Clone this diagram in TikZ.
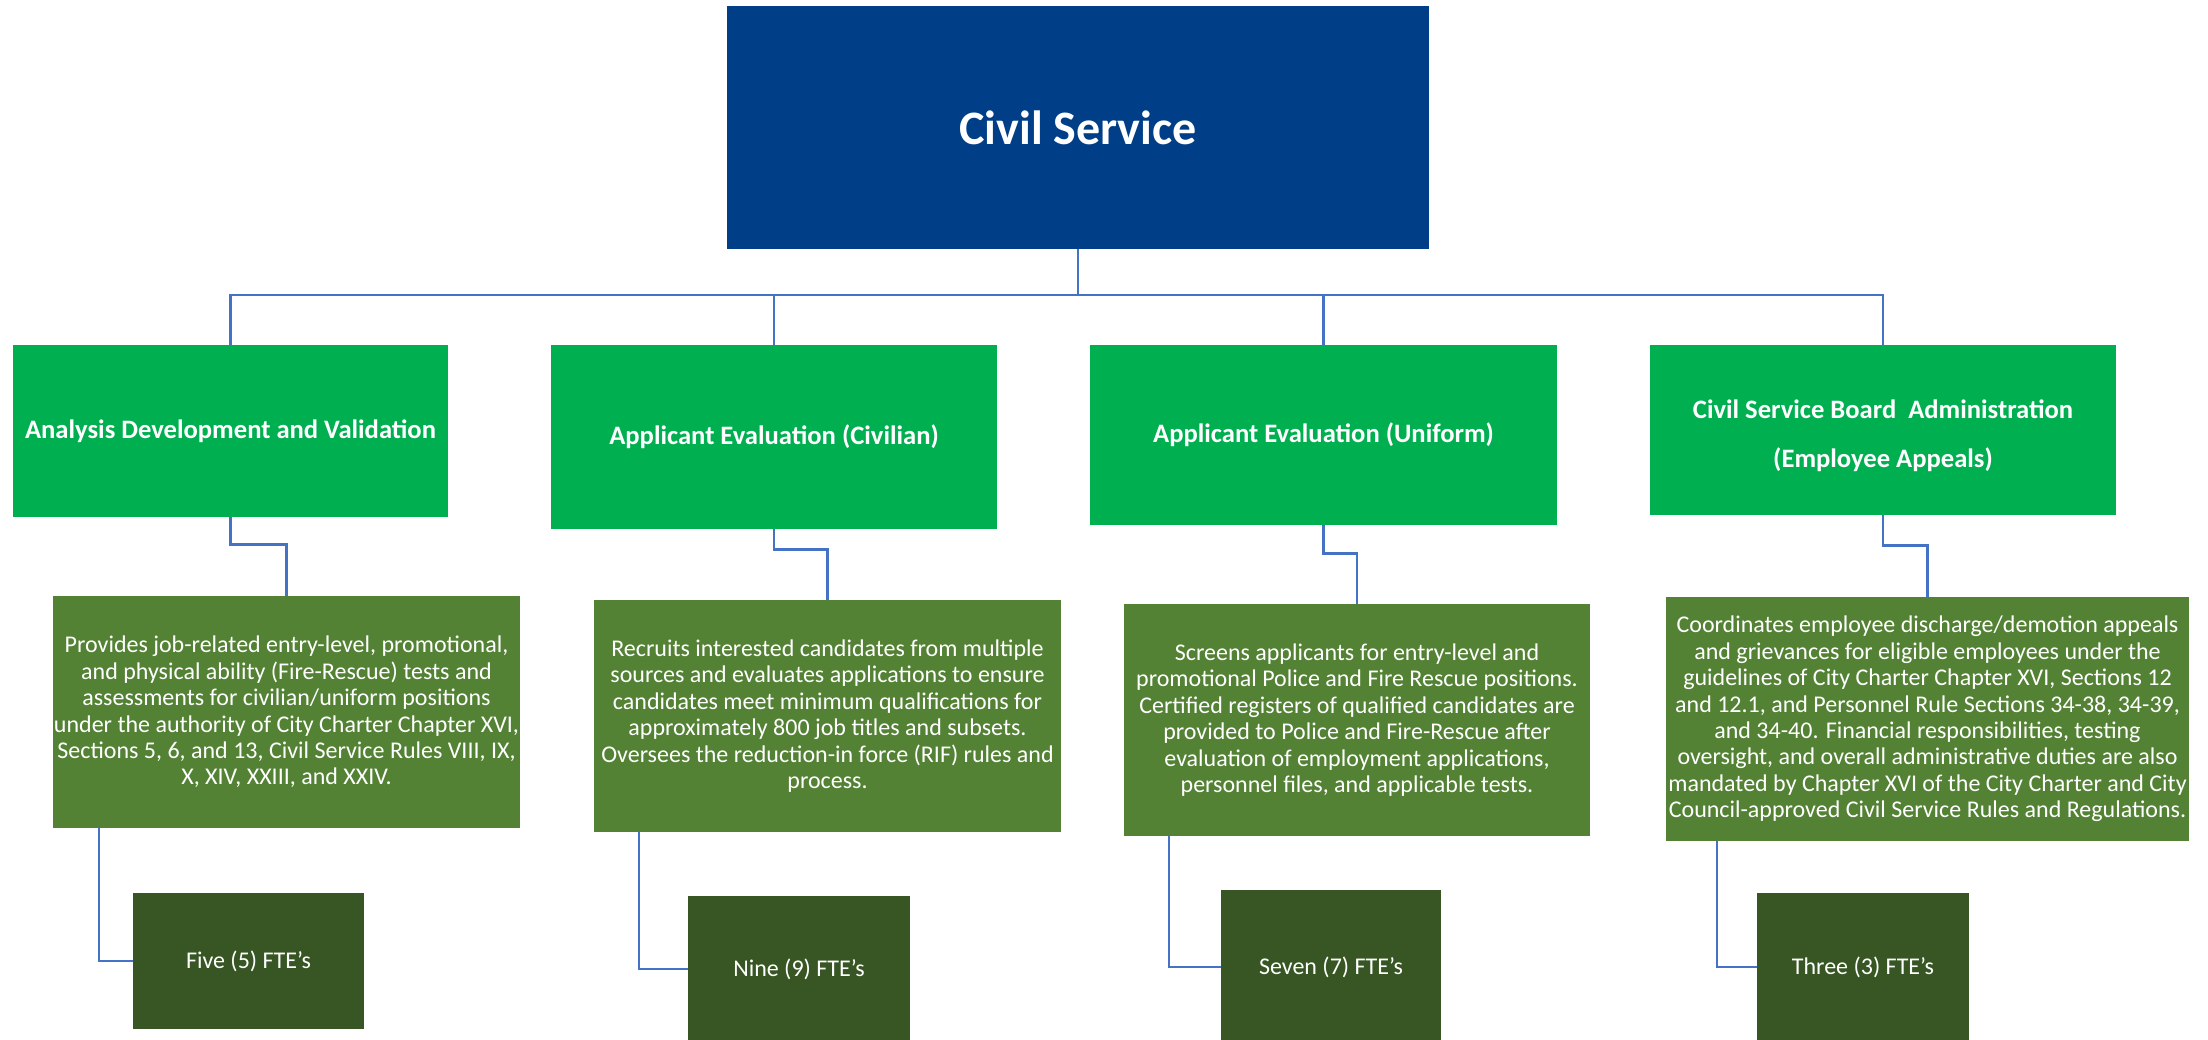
\documentclass[tikz,border=0pt]{standalone}
\usepackage{fontspec}
\setmainfont{Carlito}
\definecolor{topblue}{HTML}{003F87}
\definecolor{lvgreen}{HTML}{00B050}
\definecolor{descgreen}{HTML}{548235}
\definecolor{ftegreen}{HTML}{375623}
\definecolor{linkblue}{HTML}{4472C4}
\tikzset{
  box/.style={rectangle, inner sep=0pt, text=white, align=center},
  topbox/.style={box, fill=topblue, font=\fontsize{48}{58}\selectfont\bfseries},
  lvbox/.style={box, fill=lvgreen, font=\fontsize{26.6}{49}\selectfont\bfseries},
  descbox/.style={box, fill=descgreen, font=\fontsize{24}{26.4}\selectfont},
  ftebox/.style={box, fill=ftegreen, font=\fontsize{24}{28}\selectfont},
  link/.style={draw=linkblue, line width=2.6pt}
}
\begin{document}
\begin{tikzpicture}[x=1pt,y=-1pt]
\useasboundingbox (0,0) rectangle (2208,1040);
\fill[white] (0,0) rectangle (2208,1040);

\node[topbox, minimum width=702pt, minimum height=243pt] (top) at (1078,127.5) {Civil Service};

\node[lvbox, minimum width=435pt, minimum height=172pt] (a1) at (230.5,431) {Analysis Development and Validation};
\node[lvbox, minimum width=446pt, minimum height=184pt] (a2) at (774,437) {Applicant Evaluation (Civilian)};
\node[lvbox, minimum width=467pt, minimum height=180pt] (a3) at (1323.5,435) {Applicant Evaluation (Uniform)};
\node[lvbox, minimum width=466pt, minimum height=169pt] (a4) at (1883,430) {\rule{0pt}{31pt}Civil Service Board\ \ Administration\\(Employee Appeals)};

\node[descbox, minimum width=467pt, minimum height=232pt] (d1) at (286.5,712) {Provides job-related entry-level, promotional,\\and physical ability (Fire-Rescue) tests and\\assessments for civilian/uniform positions\\under the authority of City Charter Chapter XVI,\\Sections 5, 6, and 13, Civil Service Rules VIII, IX,\\X, XIV, XXIII, and XXIV.};
\node[descbox, minimum width=467pt, minimum height=232pt] (d2) at (827.5,716) {Recruits interested candidates from multiple\\sources and evaluates applications to ensure\\candidates meet minimum qualifications for\\approximately 800 job titles and subsets.\\Oversees the reduction-in force (RIF) rules and\\process.};
\node[descbox, minimum width=466pt, minimum height=232pt] (d3) at (1357,720) {Screens applicants for entry-level and\\promotional Police and Fire Rescue positions.\\Certified registers of qualified candidates are\\provided to Police and Fire-Rescue after\\evaluation of employment applications,\\personnel files, and applicable tests.};
\node[descbox, minimum width=523pt, minimum height=244pt] (d4) at (1927.5,719) {Coordinates employee discharge/demotion appeals\\and grievances for eligible employees under the\\guidelines of City Charter Chapter XVI, Sections 12\\and 12.1, and Personnel Rule Sections 34-38, 34-39,\\and 34-40. Financial responsibilities, testing\\oversight, and overall administrative duties are also\\mandated by Chapter XVI of the City Charter and City\\Council-approved Civil Service Rules and Regulations.};

\node[ftebox, minimum width=231pt, minimum height=136pt] (f1) at (248.5,961) {Five (5) FTE’s};
\node[ftebox, minimum width=222pt, minimum height=146pt] (f2) at (799,969) {Nine (9) FTE’s};
\node[ftebox, minimum width=220pt, minimum height=154pt] (f3) at (1331,967) {Seven (7) FTE’s};
\node[ftebox, minimum width=212pt, minimum height=148pt] (f4) at (1863,967) {Three (3) FTE’s};

\coordinate (bus) at (1078,295);
\draw[link] (top.south) -- (bus);
\draw[link] (bus) -| (a1.north);
\draw[link] (bus) -| (a2.north);
\draw[link] (bus) -| (a3.north);
\draw[link] (bus) -| (a4.north);

\draw[link] (a1.south) -- ++(0,27) -| (d1.north);
\draw[link] (a2.south) -- ++(0,20) -| (d2.north);
\draw[link] (a3.south) -- ++(0,28) -| (d3.north);
\draw[link] (a4.south) -- ++(0,31) -| (d4.north);

\draw[link] ([xshift=46pt]d1.south west) |- (f1.west);
\draw[link] ([xshift=45pt]d2.south west) |- (f2.west);
\draw[link] ([xshift=45pt]d3.south west) |- (f3.west);
\draw[link] ([xshift=51pt]d4.south west) |- (f4.west);
\end{tikzpicture}
\end{document}
